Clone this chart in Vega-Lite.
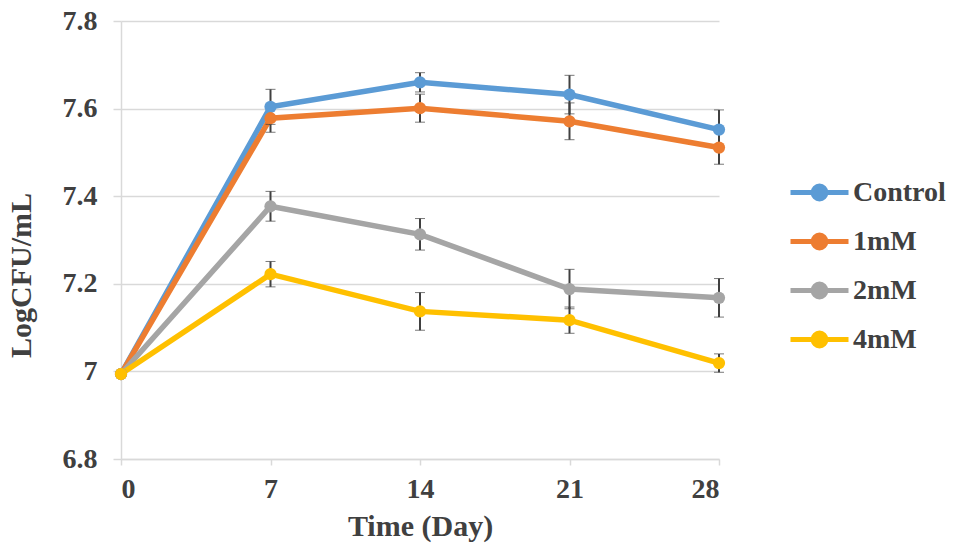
{
  "$schema": "https://vega.github.io/schema/vega-lite/v6.json",
  "width": 598,
  "height": 438,
  "autosize": "none",
  "padding": {"left": 121, "top": 21, "right": 236, "bottom": 92},
  "background": "white",
  "config": {
    "view": {"stroke": null},
    "font": "Liberation Serif"
  },
  "data": {
    "values": [
      {"day": 0, "group": "Control", "v": 6.994, "e": 0.0},
      {"day": 7, "group": "Control", "v": 7.604, "e": 0.04},
      {"day": 14, "group": "Control", "v": 7.66, "e": 0.022},
      {"day": 21, "group": "Control", "v": 7.632, "e": 0.044},
      {"day": 28, "group": "Control", "v": 7.552, "e": 0.045},
      {"day": 0, "group": "1mM", "v": 6.994, "e": 0.0},
      {"day": 7, "group": "1mM", "v": 7.578, "e": 0.032},
      {"day": 14, "group": "1mM", "v": 7.601, "e": 0.032},
      {"day": 21, "group": "1mM", "v": 7.571, "e": 0.042},
      {"day": 28, "group": "1mM", "v": 7.511, "e": 0.038},
      {"day": 0, "group": "2mM", "v": 6.994, "e": 0.0},
      {"day": 7, "group": "2mM", "v": 7.377, "e": 0.034},
      {"day": 14, "group": "2mM", "v": 7.313, "e": 0.036},
      {"day": 21, "group": "2mM", "v": 7.188, "e": 0.045},
      {"day": 28, "group": "2mM", "v": 7.168, "e": 0.044},
      {"day": 0, "group": "4mM", "v": 6.994, "e": 0.0},
      {"day": 7, "group": "4mM", "v": 7.222, "e": 0.029},
      {"day": 14, "group": "4mM", "v": 7.137, "e": 0.043},
      {"day": 21, "group": "4mM", "v": 7.117, "e": 0.03},
      {"day": 28, "group": "4mM", "v": 7.019, "e": 0.021}
    ]
  },
  "encoding": {
    "x": {
      "field": "day",
      "type": "quantitative",
      "scale": {"domain": [0, 28], "nice": false},
      "axis": {
        "values": [0, 7, 14, 21, 28],
        "title": "Time (Day)",
        "grid": false,
        "domainColor": "#d9d9d9",
        "domainWidth": 1.5,
        "tickColor": "#d9d9d9",
        "tickWidth": 1.5,
        "tickSize": 6,
        "labelPadding": 10,
        "labelFont": "Liberation Serif",
        "labelFontSize": 28,
        "labelFontWeight": "bold",
        "labelColor": "#404040",
        "titleFont": "Liberation Serif",
        "titleFontSize": 30,
        "titleFontWeight": "bold",
        "titleColor": "#404040",
        "titlePadding": 8
      }
    },
    "y": {
      "field": "v",
      "type": "quantitative",
      "scale": {"domain": [6.8, 7.8], "nice": false, "zero": false},
      "axis": {
        "values": [6.8, 7.0, 7.2, 7.4, 7.6, 7.8],
        "format": ".1~f",
        "title": "LogCFU/mL",
        "gridColor": "#d9d9d9",
        "gridWidth": 1.5,
        "domainColor": "#d9d9d9",
        "domainWidth": 1.5,
        "tickColor": "#d9d9d9",
        "tickWidth": 1.5,
        "tickSize": 8,
        "labelPadding": 16,
        "labelFont": "Liberation Serif",
        "labelFontSize": 28,
        "labelFontWeight": "bold",
        "labelColor": "#404040",
        "titleFont": "Liberation Serif",
        "titleFontSize": 30,
        "titleFontWeight": "bold",
        "titleColor": "#404040",
        "titleX": -100,
        "titleY": 254,
        "titleAngle": 270,
        "titleAlign": "center",
        "titleBaseline": "middle"
      }
    },
    "color": {
      "field": "group",
      "type": "nominal",
      "scale": {
        "domain": ["Control", "1mM", "2mM", "4mM"],
        "range": ["#5B9BD5", "#ED7D31", "#A5A5A5", "#FFC000"]
      },
      "legend": {
        "title": null,
        "orient": "none",
        "legendX": 667,
        "legendY": 140,
        "symbolType": "M-1,0H1M0.22,0A0.22,0.22,0,1,1,-0.22,0A0.22,0.22,0,1,1,0.22,0Z",
        "symbolSize": 3364,
        "symbolStrokeWidth": 5,
        "symbolOpacity": 1,
        "labelFont": "Liberation Serif",
        "labelFontSize": 28,
        "labelFontWeight": "bold",
        "labelColor": "#404040",
        "labelOffset": 2,
        "rowPadding": 1,
        "encode": {
          "symbols": {
            "update": {
              "fill": {"scale": "color", "field": "value"},
              "stroke": {"scale": "color", "field": "value"},
              "opacity": {"value": 1}
            }
          }
        }
      }
    }
  },
  "layer": [
    {
      "mark": {"type": "line", "strokeWidth": 5.5}
    },
    {
      "mark": {
        "type": "errorbar",
        "ticks": {"size": 10, "color": "#404040", "strokeWidth": 2},
        "rule": {"color": "#404040", "strokeWidth": 2}
      },
      "encoding": {
        "x": {"field": "day", "type": "quantitative"},
        "y": {"field": "v", "type": "quantitative"},
        "yError": {"field": "e"},
        "color": {"value": "#404040"}
      }
    },
    {
      "mark": {"type": "point", "filled": true, "size": 150, "opacity": 1}
    }
  ]
}
